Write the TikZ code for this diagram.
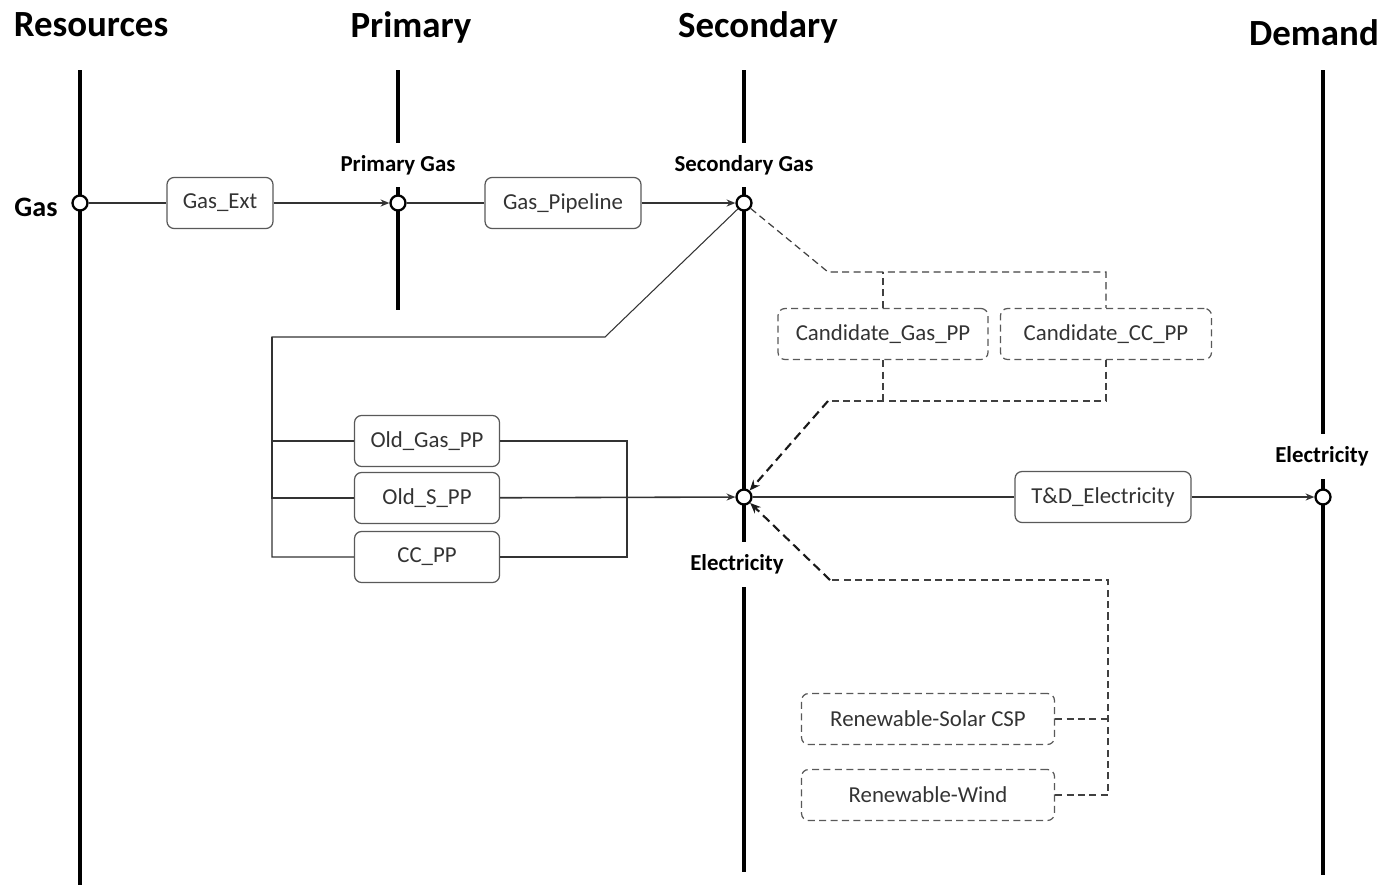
\documentclass[tikz,border=0pt]{standalone}
\usepackage{fontspec}
\setmainfont{Carlito}
\usepackage{xcolor}
\usetikzlibrary{arrows.meta}

\tikzset{
  bus/.style={line width=2.8pt},
  hub/.style={circle,draw,line width=1.3pt,fill=white,minimum size=0.3cm,inner sep=0pt},
  head/.style={font=\fontsize{21}{24}\selectfont\bfseries},
  tag/.style={font=\fontsize{13}{15}\selectfont\bfseries,fill=white,minimum height=0.9cm,inner xsep=1pt},
  proc/.style={draw=black!65,line width=0.7pt,rounded corners=4pt,minimum height=1.02cm,
    inner sep=0pt,font=\fontsize{13}{15}\selectfont,text=black!80},
  cand/.style={proc,dash pattern=on 4pt off 2.5pt},
  link/.style={draw=black!80,line width=0.6pt},
  flow/.style={link,line width=0.9pt,-{Stealth[length=5pt,width=4pt]}},
  dlink/.style={draw=black!75,line width=0.7pt,dash pattern=on 4pt off 2.5pt},
  dflow/.style={draw=black!90,line width=1.2pt,dash pattern=on 5pt off 3pt,-{Stealth[length=6pt,width=5pt]}}
}

\begin{document}
\begin{tikzpicture}[x=0.02cm,y=-0.02cm]
\useasboundingbox (0,0) rectangle (1385,889);

% column headers
\node[head] (hres) at (91,25) {Resources};
\node[head] (hpri) at (411,27) {Primary};
\node[head] (hsec) at (758,27) {Secondary};
\node[head] (hdem) at (1314,33) {Demand};

% buses
\draw[bus] (80,70) -- (80,885);
\draw[bus] (398,70) -- (398,310);
\draw[bus] (744,70) -- (744,872);
\draw[bus] (1323,70) -- (1323,875);

% bus labels
\node[tag] (lpgas) at (398,165) {Primary Gas};
\node[tag] (lsgas) at (744,165) {Secondary Gas};
\node[tag] (lelec) at (737,564) {Electricity};
\node[tag] (ldem) at (1322,456) {Electricity};
\node[font=\fontsize{16}{18}\selectfont\bfseries] (lgas) at (36,207) {Gas};

% hubs
\node[hub] (gas) at (80,203) {};
\node[hub] (pgas) at (398,203) {};
\node[hub] (sgas) at (744,203) {};
\node[hub] (elec) at (744,497) {};
\node[hub] (delec) at (1323,497) {};

% processes
\node[proc,minimum width=2.12cm] (gasext) at (220,203) {Gas\_Ext};
\node[proc,minimum width=3.12cm] (pipe) at (563,203) {Gas\_Pipeline};
\node[proc,minimum width=2.9cm] (oldgas) at (427,441) {Old\_Gas\_PP};
\node[proc,minimum width=2.9cm] (oldspp) at (427,498) {Old\_S\_PP};
\node[proc,minimum width=2.9cm] (ccpp) at (427,557) {CC\_PP};
\node[proc,minimum width=3.52cm] (td) at (1103,497) {T\&D\_Electricity};
\node[cand,minimum width=4.2cm] (candgas) at (883,334) {Candidate\_Gas\_PP};
\node[cand,minimum width=4.22cm] (candcc) at (1106,334) {Candidate\_CC\_PP};
\node[cand,minimum width=5.06cm] (solar) at (928,719) {Renewable-Solar CSP};
\node[cand,minimum width=5.06cm] (wind) at (928,795) {Renewable-Wind};

% gas chain
\draw[link] (gas) -- (gasext);
\draw[flow] (gasext) -- (pgas);
\draw[link] (pgas) -- (pipe);
\draw[flow] (pipe) -- (sgas);

% existing plants
\coordinate (kink) at (605,337);
\coordinate (lbus) at (272,337);
\coordinate (rjoin) at (627,498);
\draw[link] (sgas) -- (kink) -- (lbus) |- (ccpp);
\draw[link] (oldgas) -| (lbus);
\draw[link] (oldspp) -| (lbus);
\draw[link] (oldgas) -| (rjoin) |- (ccpp);
\draw[flow] (oldspp) -- (elec);

% candidate plants
\coordinate (ctop) at (828,272);
\coordinate (cbot) at (828,401);
\draw[dlink] (sgas) -- (ctop) -| (candcc);
\draw[dlink] (candgas) -- (candgas |- ctop);
\draw[dlink] (candgas) -- (candgas |- cbot);
\draw[dlink] (candcc) |- (cbot);
\draw[dflow] (cbot) -- (elec);

% renewables
\coordinate (rtop) at (830,580);
\coordinate (rcor) at (1108,580);
\draw[dlink] (wind) -| (rcor) -- (rtop);
\draw[dlink] (solar) -- (solar -| rcor);
\draw[dflow] (rtop) -- (elec);

% transmission
\draw[link] (elec) -- (td);
\draw[flow] (td) -- (delec);
\end{tikzpicture}
\end{document}
